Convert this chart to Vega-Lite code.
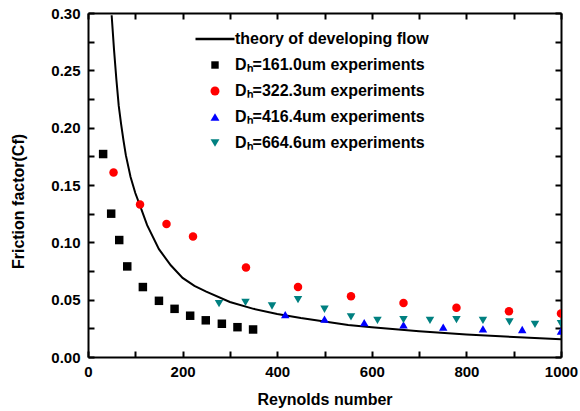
{
  "$schema": "https://vega.github.io/schema/vega-lite/v6.json",
  "autosize": {"type": "none"},
  "padding": {"left": 88, "top": 13, "right": 19, "bottom": 54},
  "width": 473,
  "height": 344,
  "background": "white",
  "config": {
    "font": "Liberation Sans",
    "view": {"stroke": null},
    "axis": {
      "domainColor": "black", "domainWidth": 2, "tickColor": "black", "tickWidth": 2, "tickSize": -6, "ticks": true,
      "grid": false, "labelFont": "Liberation Sans", "labelFontWeight": "bold", "labelFontSize": 15,
      "labelColor": "black", "titleFont": "Liberation Sans", "titleFontWeight": "bold", "titleFontSize": 16, "titleColor": "black"
    },
    "legend": {"labelFont": "Liberation Sans", "labelFontWeight": "bold", "labelFontSize": 16, "labelColor": "black", "labelLimit": 400}
  },
  "datasets": {
    "main": [
      {"series": "theory of developing flow", "Re": 50, "Cf": 0.298},
      {"series": "theory of developing flow", "Re": 55, "Cf": 0.268},
      {"series": "theory of developing flow", "Re": 60, "Cf": 0.242},
      {"series": "theory of developing flow", "Re": 65, "Cf": 0.219},
      {"series": "theory of developing flow", "Re": 70, "Cf": 0.203},
      {"series": "theory of developing flow", "Re": 75, "Cf": 0.189},
      {"series": "theory of developing flow", "Re": 80, "Cf": 0.176},
      {"series": "theory of developing flow", "Re": 90, "Cf": 0.157},
      {"series": "theory of developing flow", "Re": 100, "Cf": 0.143},
      {"series": "theory of developing flow", "Re": 110, "Cf": 0.132},
      {"series": "theory of developing flow", "Re": 125, "Cf": 0.115},
      {"series": "theory of developing flow", "Re": 150, "Cf": 0.094},
      {"series": "theory of developing flow", "Re": 175, "Cf": 0.080},
      {"series": "theory of developing flow", "Re": 200, "Cf": 0.069},
      {"series": "theory of developing flow", "Re": 225, "Cf": 0.062},
      {"series": "theory of developing flow", "Re": 250, "Cf": 0.057},
      {"series": "theory of developing flow", "Re": 300, "Cf": 0.048},
      {"series": "theory of developing flow", "Re": 350, "Cf": 0.042},
      {"series": "theory of developing flow", "Re": 400, "Cf": 0.0375},
      {"series": "theory of developing flow", "Re": 450, "Cf": 0.034},
      {"series": "theory of developing flow", "Re": 500, "Cf": 0.031},
      {"series": "theory of developing flow", "Re": 550, "Cf": 0.028},
      {"series": "theory of developing flow", "Re": 600, "Cf": 0.026},
      {"series": "theory of developing flow", "Re": 700, "Cf": 0.0225},
      {"series": "theory of developing flow", "Re": 800, "Cf": 0.0197},
      {"series": "theory of developing flow", "Re": 900, "Cf": 0.0175},
      {"series": "theory of developing flow", "Re": 1000, "Cf": 0.0155},
      {"series": "Dₕ=161.0um experiments", "Re": 32, "Cf": 0.177},
      {"series": "Dₕ=161.0um experiments", "Re": 49, "Cf": 0.125},
      {"series": "Dₕ=161.0um experiments", "Re": 66, "Cf": 0.102},
      {"series": "Dₕ=161.0um experiments", "Re": 83, "Cf": 0.079},
      {"series": "Dₕ=161.0um experiments", "Re": 116, "Cf": 0.061},
      {"series": "Dₕ=161.0um experiments", "Re": 150, "Cf": 0.049},
      {"series": "Dₕ=161.0um experiments", "Re": 183, "Cf": 0.042},
      {"series": "Dₕ=161.0um experiments", "Re": 216, "Cf": 0.036},
      {"series": "Dₕ=161.0um experiments", "Re": 249, "Cf": 0.032},
      {"series": "Dₕ=161.0um experiments", "Re": 283, "Cf": 0.029},
      {"series": "Dₕ=161.0um experiments", "Re": 316, "Cf": 0.026},
      {"series": "Dₕ=161.0um experiments", "Re": 349, "Cf": 0.024},
      {"series": "Dₕ=322.3um experiments", "Re": 54, "Cf": 0.161},
      {"series": "Dₕ=322.3um experiments", "Re": 110, "Cf": 0.133},
      {"series": "Dₕ=322.3um experiments", "Re": 166, "Cf": 0.116},
      {"series": "Dₕ=322.3um experiments", "Re": 222, "Cf": 0.105},
      {"series": "Dₕ=322.3um experiments", "Re": 334, "Cf": 0.078},
      {"series": "Dₕ=322.3um experiments", "Re": 444, "Cf": 0.061},
      {"series": "Dₕ=322.3um experiments", "Re": 556, "Cf": 0.053},
      {"series": "Dₕ=322.3um experiments", "Re": 667, "Cf": 0.047},
      {"series": "Dₕ=322.3um experiments", "Re": 779, "Cf": 0.043},
      {"series": "Dₕ=322.3um experiments", "Re": 890, "Cf": 0.040},
      {"series": "Dₕ=322.3um experiments", "Re": 1000, "Cf": 0.038},
      {"series": "Dₕ=416.4um experiments", "Re": 417, "Cf": 0.037},
      {"series": "Dₕ=416.4um experiments", "Re": 500, "Cf": 0.033},
      {"series": "Dₕ=416.4um experiments", "Re": 584, "Cf": 0.030},
      {"series": "Dₕ=416.4um experiments", "Re": 667, "Cf": 0.028},
      {"series": "Dₕ=416.4um experiments", "Re": 751, "Cf": 0.026},
      {"series": "Dₕ=416.4um experiments", "Re": 835, "Cf": 0.0245},
      {"series": "Dₕ=416.4um experiments", "Re": 918, "Cf": 0.024},
      {"series": "Dₕ=416.4um experiments", "Re": 1000, "Cf": 0.0227},
      {"series": "Dₕ=664.6um experiments", "Re": 277, "Cf": 0.0466},
      {"series": "Dₕ=664.6um experiments", "Re": 333, "Cf": 0.0477},
      {"series": "Dₕ=664.6um experiments", "Re": 389, "Cf": 0.0445},
      {"series": "Dₕ=664.6um experiments", "Re": 444, "Cf": 0.050},
      {"series": "Dₕ=664.6um experiments", "Re": 500, "Cf": 0.0416},
      {"series": "Dₕ=664.6um experiments", "Re": 556, "Cf": 0.035},
      {"series": "Dₕ=664.6um experiments", "Re": 612, "Cf": 0.032},
      {"series": "Dₕ=664.6um experiments", "Re": 667, "Cf": 0.0326},
      {"series": "Dₕ=664.6um experiments", "Re": 723, "Cf": 0.032},
      {"series": "Dₕ=664.6um experiments", "Re": 779, "Cf": 0.0326},
      {"series": "Dₕ=664.6um experiments", "Re": 835, "Cf": 0.032},
      {"series": "Dₕ=664.6um experiments", "Re": 891, "Cf": 0.0306},
      {"series": "Dₕ=664.6um experiments", "Re": 945, "Cf": 0.0285},
      {"series": "Dₕ=664.6um experiments", "Re": 1000, "Cf": 0.029}
    ]
  },
  "data": {"name": "main"},
  "resolve": {"axis": {"x": "independent", "y": "independent"}},
  "layer": [
    {
      "transform": [{"filter": "datum.series === 'theory of developing flow'"}],
      "mark": {"type": "line", "color": "black", "strokeWidth": 2, "clip": true},
      "encoding": {
        "x": {"field": "Re", "type": "quantitative", "scale": {"domain": [0, 1000], "nice": false},
          "axis": {"orient": "bottom", "title": "Reynolds number", "values": [0,100,200,300,400,500,600,700,800,900,1000],
            "format": "d", "labelExpr": "datum.value % 200 == 0 ? datum.label : ''", "labelPadding": 13, "labelFlush": false,
            "titleY": 42, "titleBaseline": "middle",
            "encode": {"ticks": {"update": {"y2": [{"test": "datum.value % 200 != 0", "value": -3}, {"value": -6}]}}}}},
        "y": {"field": "Cf", "type": "quantitative", "scale": {"domain": [0, 0.3], "nice": false, "zero": false},
          "axis": {"orient": "left", "title": "Friction factor(Cf)", "format": ".2f",
            "values": [0,0.025,0.05,0.075,0.1,0.125,0.15,0.175,0.2,0.225,0.25,0.275,0.3],
            "labelExpr": "abs(datum.value*20 - round(datum.value*20)) < 0.001 ? datum.label : ''", "labelPadding": 14, "labelFlush": false,
            "titleX": -62, "titleY": 188,
            "encode": {"ticks": {"update": {"x2": [{"test": "abs(datum.value*20 - round(datum.value*20)) > 0.001", "value": 3}, {"value": 6}]}}}}},
        "color": {"field": "series", "type": "nominal",
          "scale": {"domain": ["theory of developing flow", "Dₕ=161.0um experiments", "Dₕ=322.3um experiments", "Dₕ=416.4um experiments", "Dₕ=664.6um experiments"],
            "range": ["black", "black", "#ff0000", "#0000ff", "#008080"]},
          "legend": {"orient": "none", "legendX": 119, "legendY": 18, "title": null, "padding": 0,
            "symbolSize": 64, "labelOffset": 12, "rowPadding": 10, "symbolOpacity": 1,
            "encode": {"symbols": {"update": {
              "size": {"signal": "datum.value === 'theory of developing flow' ? 1521 : (datum.value === 'Dₕ=161.0um experiments' ? 55 : 80)"},
              "stroke": {"signal": "datum.value === 'theory of developing flow' ? 'black' : 'transparent'"},
              "strokeWidth": {"signal": "datum.value === 'theory of developing flow' ? 2.5 : 0"}
            }}}}}
      }
    },
    {
      "transform": [{"filter": "datum.series !== 'theory of developing flow'"}],
      "mark": {"type": "point", "filled": true, "opacity": 1, "size": 72, "clip": true},
      "encoding": {
        "x": {"field": "Re", "type": "quantitative",
          "axis": {"orient": "top", "title": null, "labels": false, "values": [0,100,200,300,400,500,600,700,800,900,1000],
            "encode": {"ticks": {"update": {"y2": [{"test": "datum.value % 200 != 0", "value": 3}, {"value": 6}]}}}}},
        "y": {"field": "Cf", "type": "quantitative",
          "axis": {"orient": "right", "title": null, "labels": false,
            "values": [0,0.025,0.05,0.075,0.1,0.125,0.15,0.175,0.2,0.225,0.25,0.275,0.3],
            "encode": {"ticks": {"update": {"x2": [{"test": "abs(datum.value*20 - round(datum.value*20)) > 0.001", "value": -3}, {"value": -6}]}}}}},
        "color": {"field": "series", "type": "nominal"},
        "shape": {"field": "series", "type": "nominal",
          "scale": {"domain": ["theory of developing flow", "Dₕ=161.0um experiments", "Dₕ=322.3um experiments", "Dₕ=416.4um experiments", "Dₕ=664.6um experiments"],
            "range": ["stroke", "square", "circle", "triangle-up", "triangle-down"]}}
      }
    }
  ]
}
